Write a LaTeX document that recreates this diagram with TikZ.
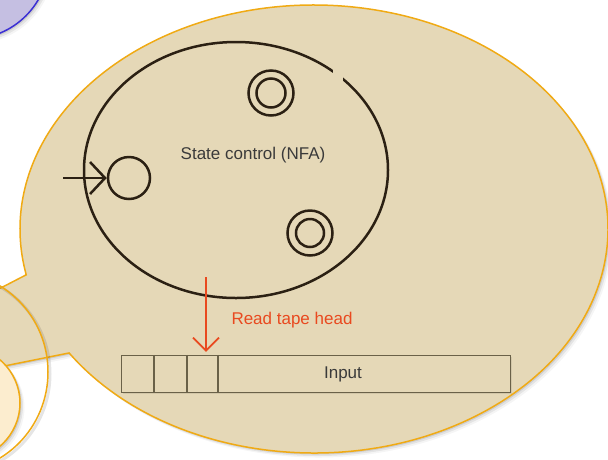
\documentclass[tikz,border=0pt]{standalone}
\usepackage{fontspec}
\setmainfont{Liberation Sans}
\usetikzlibrary{shadows,arrows.meta}

\definecolor{bubble}{HTML}{E5D8B7}
\definecolor{bubbleedge}{HTML}{F0AA14}
\definecolor{cream}{HTML}{FCEDCF}
\definecolor{lilac}{HTML}{C5BFE2}
\definecolor{lilacedge}{HTML}{3C30D4}
\definecolor{ink}{HTML}{2B2013}
\definecolor{tapeink}{HTML}{6A6148}
\definecolor{headred}{HTML}{E9491F}
\definecolor{labelgray}{HTML}{3A3A3A}

\begin{document}
\begin{tikzpicture}[x=1pt,y=-1pt,
  softshadow/.style={
    general shadow={fill=black,opacity=.10,shadow xshift=1.5pt,shadow yshift=-1.5pt},
    general shadow={fill=black,opacity=.07,shadow xshift=3pt,shadow yshift=-3pt},
    general shadow={fill=black,opacity=.04,shadow xshift=4.5pt,shadow yshift=-4.5pt}},
  edgeline/.style={line width=1.5pt},
  inkline/.style={draw=ink,line width=2.5pt},
  statenode/.style={circle,inkline,minimum size=42pt,inner sep=0pt},
  acceptnode/.style={circle,inkline,minimum size=45pt,inner sep=0pt},
  sanslabel/.style={font=\fontsize{17}{20}\selectfont,inner sep=0pt},
  ]
\useasboundingbox (0,0) rectangle (608,459);

% lilac bubble in the corner
\path[fill=lilac,draw=lilacedge,edgeline,softshadow] (-30,-40) circle[radius=79];

% speech bubble with its tail
\coordinate (tailA) at ([shift={(314,229)}]168.2:294 and 224);
\coordinate (tailB) at ([shift={(314,229)}]146.4:294 and 224);
\coordinate (tailtip) at (-249,417);
\path[fill=bubble,draw=bubbleedge,edgeline,softshadow]
  (tailA) -- (tailtip) -- (tailB)
  arc[start angle=146.4,end angle=-191.8,x radius=294,y radius=224] -- cycle;

% outline ring and small cream bubble at the left edge
\draw[bubbleedge,edgeline,
  preaction={draw=black,opacity=.10,line width=3pt,transform canvas={xshift=2pt,yshift=-2pt}}]
  (-50,372) ellipse[x radius=98,y radius=100];
\path[fill=cream,draw=bubbleedge,edgeline,softshadow] (-40,403) ellipse[x radius=60,y radius=58];

% state control outline, with the small break near its upper right
\draw[inkline] (236,170) ellipse[x radius=152,y radius=128];
\fill[bubble] (333,20) rectangle (343,85);

% states
\node[statenode] (q0) at (129,178) {};
\node[acceptnode] (q1) at (271,93) {};
\draw[inkline] (q1.center) circle[radius=14.5];
\node[acceptnode] (q2) at (310,233) {};
\draw[inkline] (q2.center) circle[radius=14];
\coordinate (startfrom) at (63,178);
\draw[inkline,-{Straight Barb[length=15pt,width=32pt]}] (startfrom) -- (q0.west);

\node[sanslabel,text=labelgray] (ctrl) at (253,155) {State control (NFA)};

% input tape
\node[fill=bubble,draw=tapeink,line width=1.5pt,minimum width=389pt,minimum height=37pt,inner sep=0pt,
  general shadow={fill=black,opacity=.08,shadow xshift=1pt,shadow yshift=-1pt}]
  (tape) at (316,374) {};
\foreach \cx/\nm in {154/c1,187/c2,218/c3}{
  \draw[tapeink,line width=1.5pt] (tape.north -| \cx,0) coordinate (\nm top) -- (tape.south -| \cx,0);
}
\node[sanslabel,text=labelgray] (inp) at (343,374) {Input};

% read head
\coordinate (headfrom) at (206,277);
\draw[headred,line width=1.6pt,-{Straight Barb[length=13pt,width=26pt]},shorten >=3pt]
  (headfrom) -- (headfrom |- tape.north);
\node[sanslabel,text=headred] (headlbl) at (292,320) {Read tape head};
\end{tikzpicture}
\end{document}
